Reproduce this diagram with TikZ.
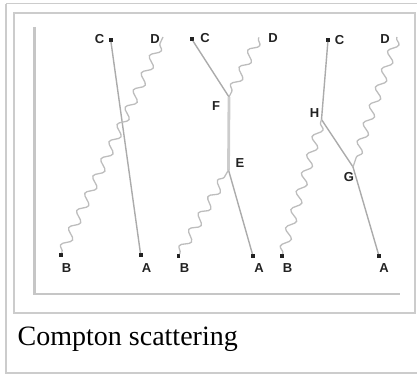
\documentclass[tikz,border=0pt]{standalone}
\usepackage{fontspec}
\setmainfont{Liberation Serif}
\setsansfont{Liberation Sans}
\usetikzlibrary{decorations.pathmorphing}

\definecolor{framegray}{HTML}{CCCCCC}
\definecolor{axisgray}{HTML}{C6C6C6}
\definecolor{fermgray}{HTML}{ABABAB}
\definecolor{photgray}{HTML}{BDBDBD}
\definecolor{labelink}{HTML}{222222}

\tikzset{
  dot/.style={shape=rectangle, fill=labelink, inner sep=0pt, minimum size=3.6pt},
  lbl/.style={font=\sffamily\bfseries\fontsize{13}{13}\selectfont, text=labelink, inner sep=0pt},
  fermion/.style={draw=fermgray, line width=1.4pt},
  propagator/.style={draw=framegray, line width=2.8pt},
  photon/.style={draw=photgray, line width=1.3pt, decorate,
    decoration={snake, segment length=19pt, amplitude=4.4pt, pre length=1pt, post length=1pt}},
  framebox/.style={draw=framegray, line width=1.6pt},
  axis/.style={draw=axisgray, line width=2.6pt},
}

\begin{document}
\begin{tikzpicture}[x=1pt, y=-1pt]
  \useasboundingbox (0,0) rectangle (417,374);

  % outer and inner frames
  \draw[framebox] (6,3.7) -- (425,3.7);
  \draw[framebox] (6,3.7) -- (6,372.7) -- (425,372.7);
  \draw[framebox] (13.8,12.8) rectangle (415,312.7);

  % axes
  \draw[axis] (34.3,27) -- (34.3,294) -- (400,294);

  % ---- first diagram: single crossing ----
  \node[dot] (C1) at (110.7,40) {};
  \node[lbl] (LC1) at (99.5,39) {C};
  \coordinate (D1) at (163,37);
  \node[lbl] (LD1) at (155,39) {D};
  \node[dot] (B1) at (60.7,255) {};
  \node[lbl] (LB1) at (66.5,268) {B};
  \node[dot] (A1) at (140.7,255) {};
  \node[lbl] (LA1) at (146.5,268) {A};
  \draw[fermion] (C1) -- (A1);
  \draw[photon] (B1) -- (D1);

  % ---- second diagram: vertices E and F ----
  \node[dot] (C2) at (191.7,39) {};
  \node[lbl] (LC2) at (205,38.5) {C};
  \coordinate (D2) at (259,37.5);
  \node[lbl] (LD2) at (273,38.5) {D};
  \coordinate (F) at (229,97);
  \node[lbl] (LF) at (216,106.5) {F};
  \coordinate (E) at (228.5,170);
  \node[lbl] (LE) at (240,163) {E};
  \node[dot] (B2) at (178.3,256) {};
  \node[lbl] (LB2) at (184.5,268.5) {B};
  \node[dot] (A2) at (253,256) {};
  \node[lbl] (LA2) at (259,268.5) {A};
  \draw[fermion] (C2) -- (F);
  \draw[propagator] (F) -- (E);
  \draw[fermion] (E) -- (A2);
  \draw[photon] (D2) -- (F);
  \draw[photon] (B2) -- (E);

  % ---- third diagram: vertices G and H ----
  \node[dot] (C3) at (328,40) {};
  \node[lbl] (LC3) at (339.5,40) {C};
  \coordinate (D3) at (397,37);
  \node[lbl] (LD3) at (385,39) {D};
  \coordinate (H) at (321.5,119.5);
  \node[lbl] (LH) at (314.5,113) {H};
  \coordinate (G) at (353,167);
  \node[lbl] (LG) at (349,177) {G};
  \node[dot] (B3) at (282,256) {};
  \node[lbl] (LB3) at (287.5,268.5) {B};
  \node[dot] (A3) at (379,256) {};
  \node[lbl] (LA3) at (384,268.5) {A};
  \draw[fermion] (C3) -- (H) -- (G) -- (A3);
  \draw[photon] (B3) -- (H);
  \draw[photon] (D3) -- (G);

  % caption
  \node[anchor=base west, inner sep=0pt, font=\fontsize{28}{30}\selectfont] (cap) at (17.5,345) {Compton scattering};
\end{tikzpicture}
\end{document}
